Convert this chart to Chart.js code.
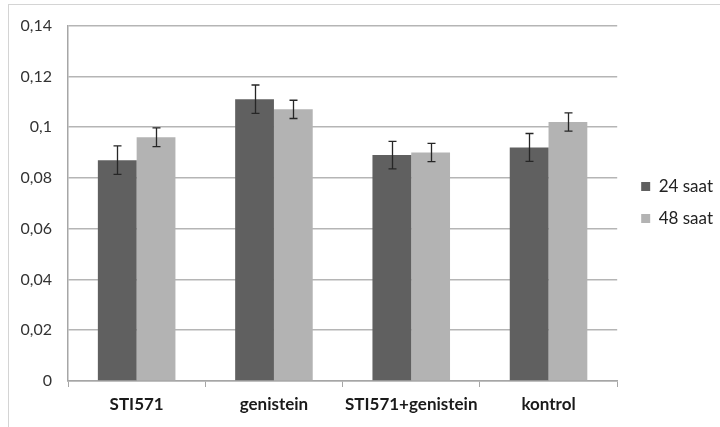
<!DOCTYPE html>
<html>
<head>
<meta charset="utf-8">
<script src="https://cdn.jsdelivr.net/npm/chart.js@4.4.1/dist/chart.umd.min.js"></script>
<style>
  html, body { margin: 0; padding: 0; background: #fff; overflow: hidden; }
  #frame { position: absolute; left: 8px; top: 4px; width: 730px; height: 440px; border: 1px solid #d4d4d4; }
  #wrap { position: absolute; left: 0; top: 0; width: 720px; height: 427px; }
</style>
</head>
<body>
<div id="frame"></div>
<div id="wrap"><canvas id="chart"></canvas></div>
<script>
// gruplar ve seriler
const categories = ['STI571', 'genistein', 'STI571+genistein', 'kontrol'];
const seriesNames = ['24 saat', '48 saat'];
const values24 = [0.087, 0.111, 0.089, 0.092];
const values48 = [0.096, 0.107, 0.090, 0.102];
const err24 = [0.0056, 0.0056, 0.0054, 0.0055];
const err48 = [0.0037, 0.0036, 0.0036, 0.0036];
const yTickLabels = ['0', '0,02', '0,04', '0,06', '0,08', '0,1', '0,12', '0,14'];

const errors = [err24, err48];

// hata çubukları
const errorBars = {
    id: 'errorBars',
    afterDatasetsDraw(chart) {
        const ctx = chart.ctx;
        const y = chart.scales.y;
        ctx.save();
        ctx.strokeStyle = '#262626';
        ctx.lineWidth = 1.3;
        chart.data.datasets.forEach((ds, di) => {
            const meta = chart.getDatasetMeta(di);
            meta.data.forEach((bar, i) => {
                const v = ds.data[i], e = errors[di][i];
                const top = y.getPixelForValue(v + e);
                const bot = y.getPixelForValue(v - e);
                const x = Math.round(bar.x) + 0.5;
                ctx.beginPath();
                ctx.moveTo(x, top); ctx.lineTo(x, bot);
                ctx.moveTo(x - 4, top); ctx.lineTo(x + 4, top);
                ctx.moveTo(x - 4, bot); ctx.lineTo(x + 4, bot);
                ctx.stroke();
            });
        });
        ctx.restore();
    }
};

// lejantı çizim alanının ortasına hizala, biraz sağa kaydır
const legendCenter = {
    id: 'legendCenter',
    afterLayout(chart) {
        const lg = chart.legend;
        if (!lg) return;
        lg.bottom = chart.chartArea.bottom;
        lg.height = lg.bottom - lg.top;
        lg.left += 9;
        lg.right += 9;
    }
};

new Chart(document.getElementById('chart'), {
    type: 'bar',
    data: {
        labels: categories,
        datasets: [
            { label: seriesNames[0], data: values24, backgroundColor: '#606060' },
            { label: seriesNames[1], data: values48, backgroundColor: '#b3b3b3' }
        ]
    },
    options: {
        responsive: true,
        maintainAspectRatio: false,
        animation: false,
        events: [],
        layout: { padding: { left: 0, top: 24, right: 6, bottom: 0 } },
        datasets: { bar: { categoryPercentage: 0.565, barPercentage: 1.0 } },
        plugins: {
            tooltip: { enabled: false },
            legend: {
                position: 'right',
                labels: {
                    color: '#222',
                    font: { family: 'Lato', size: 17 },
                    boxWidth: 9,
                    boxHeight: 9,
                    padding: 15
                }
            }
        },
        scales: {
            x: {
                grid: { display: true, drawOnChartArea: false, drawTicks: true, tickLength: 6, color: '#a6a6a6', offset: true },
                border: { color: '#a6a6a6', width: 1.5 },
                ticks: {
                    color: '#1a1a1a',
                    font: { family: 'Lato', size: 17, weight: 'bold' },
                    padding: 7,
                    maxRotation: 0,
                    minRotation: 0,
                    autoSkip: false
                },
                afterFit(s) { s.height = 46; }
            },
            y: {
                min: 0,
                max: 0.14,
                grid: { color: '#b5b5b5', lineWidth: 1.5, drawTicks: false },
                border: { color: '#a6a6a6', width: 1.5 },
                ticks: {
                    stepSize: 0.02,
                    color: '#333',
                    font: { family: 'Lato', size: 16 },
                    padding: 16,
                    callback: (v, i) => yTickLabels[i]
                },
                afterFit(s) { s.width = 68; }
            }
        }
    },
    plugins: [errorBars, legendCenter]
});
</script>
</body>
</html>
